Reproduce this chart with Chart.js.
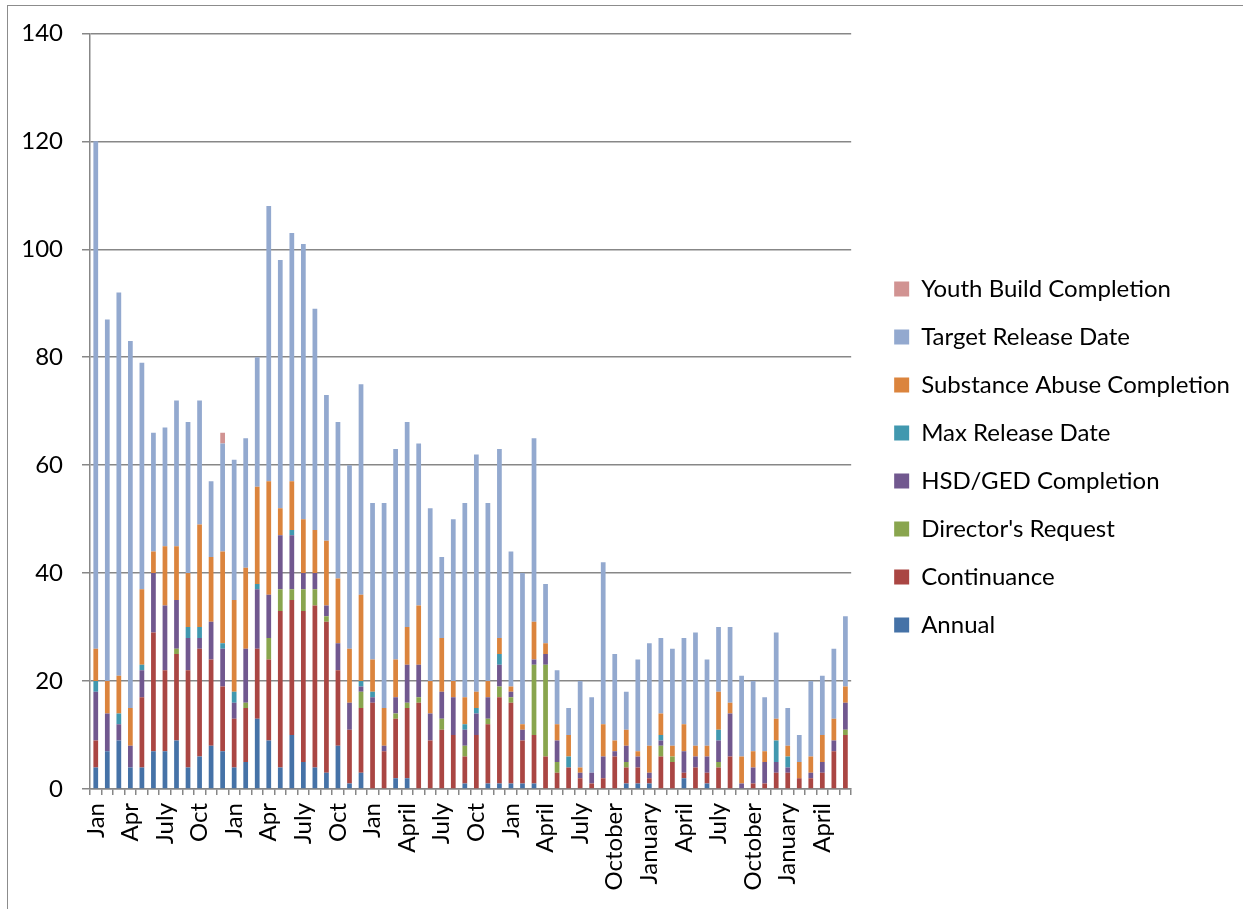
<!DOCTYPE html>
<html>
<head>
<meta charset="utf-8">
<script src="https://cdn.jsdelivr.net/npm/chart.js@4.4.1/dist/chart.umd.min.js"></script>
<style>
  html, body { margin: 0; padding: 0; background: #fff; }
  #wrap { position: relative; width: 1243px; height: 909px; overflow: hidden; }
  #frame { position: absolute; left: 7px; top: 5px; width: 1300px; height: 1000px; border: 1px solid #8c8c8c; }
  #releases { position: absolute; left: 0; top: 0; }
</style>
</head>
<body>
<div id="wrap">
  <div id="frame"></div>
  <canvas id="releases" width="1243" height="909"></canvas>
</div>
<script>
// month labels, only every third one is shown on the axis
const months = [
  "Jan", "Feb", "Mar", "Apr", "May", "June", "July", "Aug", "Sept", "Oct", "Nov", "Dec",
  "Jan", "Feb", "Mar", "Apr", "May", "June", "July", "Aug", "Sept", "Oct", "Nov", "Dec",
  "Jan", "Feb", "March", "April", "May", "June", "July", "Aug", "Sept", "Oct", "Nov", "Dec",
  "Jan", "Feb", "March", "April", "May", "June", "July", "August", "September", "October", "November", "December",
  "January", "February", "March", "April", "May", "June", "July", "August", "September", "October", "November", "December",
  "January", "February", "March", "April", "May", "June"
];

const annual = [
  4, 7, 9, 4, 4, 7, 7, 9, 4, 6, 8, 7,
  4, 5, 13, 9, 4, 10, 5, 4, 3, 8, 1, 3,
  0, 0, 2, 2, 0, 0, 0, 0, 1, 0, 1, 1,
  1, 1, 1, 0, 0, 0, 0, 0, 0, 0, 1, 1,
  1, 0, 0, 2, 0, 1, 0, 0, 0, 0, 0, 0,
  0, 0, 0, 0, 0, 0
];
const continuance = [
  5, 0, 0, 0, 13, 22, 15, 16, 18, 20, 16, 12,
  9, 10, 13, 15, 29, 25, 28, 30, 28, 14, 10, 12,
  16, 7, 11, 13, 16, 9, 11, 10, 5, 10, 11, 16,
  15, 8, 9, 6, 3, 4, 2, 1, 2, 6, 3, 3,
  1, 6, 5, 1, 4, 2, 4, 6, 0, 1, 1, 3,
  3, 2, 2, 3, 7, 10
];
const directorsRequest = [
  0, 0, 0, 0, 0, 0, 0, 1, 0, 0, 0, 0,
  0, 1, 0, 4, 4, 2, 4, 3, 1, 0, 0, 3,
  0, 0, 1, 1, 1, 0, 2, 0, 2, 0, 1, 2,
  1, 0, 13, 17, 2, 0, 0, 0, 0, 0, 1, 0,
  0, 2, 1, 0, 0, 0, 1, 0, 0, 0, 0, 0,
  0, 0, 0, 0, 0, 1
];
const hsdGed = [
  9, 7, 3, 4, 5, 11, 12, 9, 6, 2, 7, 7,
  3, 10, 11, 8, 10, 10, 3, 3, 2, 5, 5, 1,
  1, 1, 3, 7, 6, 5, 5, 7, 3, 4, 4, 4,
  1, 2, 1, 2, 4, 0, 1, 2, 4, 1, 3, 2,
  1, 1, 0, 4, 2, 3, 4, 8, 1, 3, 4, 2,
  1, 0, 1, 2, 2, 5
];
const maxRelease = [
  2, 0, 2, 0, 1, 0, 0, 0, 2, 2, 0, 1,
  2, 0, 1, 0, 0, 1, 0, 0, 0, 0, 0, 1,
  1, 0, 0, 0, 0, 0, 0, 0, 1, 1, 0, 2,
  0, 0, 0, 0, 0, 2, 0, 0, 0, 0, 0, 0,
  0, 1, 0, 0, 0, 0, 2, 0, 0, 0, 0, 4,
  2, 0, 0, 0, 0, 0
];
const substanceAbuse = [
  6, 6, 7, 7, 14, 4, 11, 10, 10, 19, 12, 17,
  17, 15, 18, 21, 5, 9, 10, 8, 12, 12, 10, 16,
  6, 7, 7, 7, 11, 6, 10, 3, 5, 3, 3, 3,
  1, 1, 7, 2, 3, 4, 1, 0, 6, 2, 3, 1,
  5, 4, 2, 5, 2, 2, 7, 2, 5, 3, 2, 4,
  2, 3, 3, 5, 4, 3
];
const targetRelease = [
  94, 67, 71, 68, 42, 22, 22, 27, 28, 23, 14, 20,
  26, 24, 24, 51, 46, 46, 51, 41, 27, 29, 34, 39,
  29, 38, 39, 38, 30, 32, 15, 30, 36, 44, 33, 35,
  25, 28, 34, 11, 10, 5, 16, 14, 30, 16, 7, 17,
  19, 14, 18, 16, 21, 16, 12, 14, 15, 13, 10, 16,
  7, 5, 14, 11, 13, 13
];
const youthBuild = [
  0, 0, 0, 0, 0, 0, 0, 0, 0, 0, 0, 2,
  0, 0, 0, 0, 0, 0, 0, 0, 0, 0, 0, 0,
  0, 0, 0, 0, 0, 0, 0, 0, 0, 0, 0, 0,
  0, 0, 0, 0, 0, 0, 0, 0, 0, 0, 0, 0,
  0, 0, 0, 0, 0, 0, 0, 0, 0, 0, 0, 0,
  0, 0, 0, 0, 0, 0
];

const yTicks = [0, 20, 40, 60, 80, 100, 120, 140];

const gridGrey = "#878787";
const font = { family: "Lato", size: 24 };

function series(label, data, colour) {
  return {
    label: label,
    data: data,
    backgroundColor: colour,
    borderWidth: 0,
    barPercentage: 0.41,
    categoryPercentage: 1,
  };
}

// invisible axis used only to reserve space in the layout
function spacer(position, size) {
  return {
    type: "linear",
    position: position,
    display: true,
    grid: { display: false },
    border: { display: false },
    ticks: { display: false },
    afterFit: function (scale) {
      if (position === "top") {
        scale.height = size;
      } else {
        scale.width = size;
      }
    },
  };
}

let ctx = document.querySelector("#releases").getContext("2d");

let releaseChart = new Chart(ctx, {
  type: "bar",
  data: {
    labels: months,
    datasets: [
      series("Annual", annual, "#4572A7"),
      series("Continuance", continuance, "#AA4643"),
      series("Director's Request", directorsRequest, "#89A54E"),
      series("HSD/GED Completion", hsdGed, "#71588F"),
      series("Max Release Date", maxRelease, "#4198AF"),
      series("Substance Abuse Completion", substanceAbuse, "#DB843D"),
      series("Target Release Date", targetRelease, "#93A9CF"),
      series("Youth Build Completion", youthBuild, "#D19392"),
    ],
  },
  options: {
    responsive: false,
    animation: false,
    devicePixelRatio: 1,
    layout: {
      autoPadding: false,
      padding: { left: 0, top: 5, right: 3, bottom: 0 },
    },
    plugins: {
      tooltip: { enabled: false },
      legend: {
        position: "right",
        reverse: true,
        maxWidth: 420,
        labels: {
          boxWidth: 15,
          boxHeight: 15,
          padding: 24,
          color: "#000",
          font: font,
        },
      },
    },
    scales: {
      x: {
        stacked: true,
        grid: {
          display: true,
          drawOnChartArea: false,
          drawTicks: true,
          tickLength: 6,
          color: gridGrey,
          lineWidth: 1.5,
        },
        border: { color: gridGrey, width: 1.5 },
        ticks: {
          autoSkip: false,
          maxRotation: 90,
          minRotation: 90,
          padding: 8,
          color: "#000",
          font: font,
          callback: function (value, index) {
            return index % 3 === 0 ? months[index] : "";
          },
        },
        afterFit: function (scale) {
          scale.height = 120;
        },
      },
      y: {
        stacked: true,
        min: 0,
        max: 140,
        afterBuildTicks: function (scale) {
          scale.ticks = yTicks.map((v) => ({ value: v }));
        },
        grid: {
          color: gridGrey,
          lineWidth: 1.5,
          tickLength: 8,
        },
        border: { color: gridGrey, width: 1.5 },
        ticks: {
          padding: 19,
          color: "#000",
          font: font,
        },
        afterFit: function (scale) {
          scale.width = 90;
        },
      },
      gapTop: spacer("top", 28),
      gapRight: spacer("right", 19),
    },
  },
});
</script>
</body>
</html>
